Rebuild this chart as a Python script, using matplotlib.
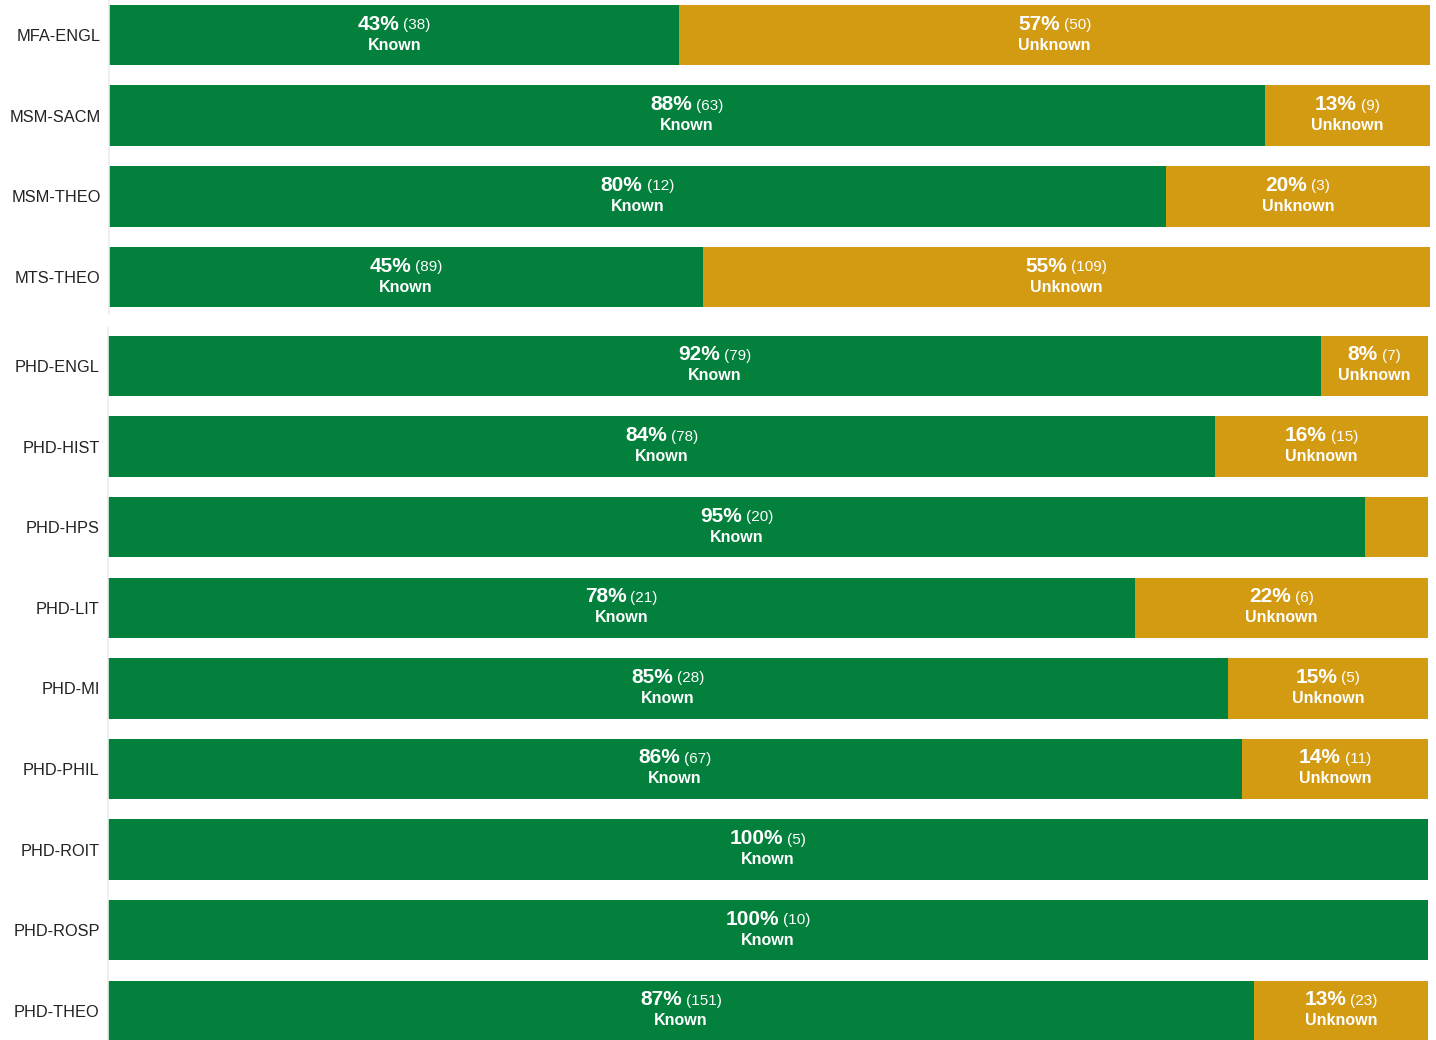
import math
import matplotlib
matplotlib.use("Agg")
import matplotlib.pyplot as plt
from matplotlib.transforms import offset_copy

plt.rcParams['font.family'] = ['Liberation Sans', 'DejaVu Sans']

top_programs = ["MFA-ENGL", "MSM-SACM", "MSM-THEO", "MTS-THEO"]
top_known = [38, 63, 12, 89]
top_unknown = [50, 9, 3, 109]

bottom_programs = ["PHD-ENGL", "PHD-HIST", "PHD-HPS", "PHD-LIT", "PHD-MI",
                   "PHD-PHIL", "PHD-ROIT", "PHD-ROSP", "PHD-THEO"]
bottom_known = [79, 78, 20, 21, 28, 67, 5, 10, 151]
bottom_unknown = [7, 15, 1, 6, 5, 11, 0, 0, 23]

GREEN = "#03803C"
GOLD = "#D39B12"
W, H = 1436, 1040
DPI = 100
fig = plt.figure(figsize=(W / DPI, H / DPI), dpi=DPI)


def px_axes(x0, y0, x1, y1):
    return fig.add_axes([x0 / W, 1 - y1 / H, (x1 - x0) / W, (y1 - y0) / H])


def rnd(v):
    return int(math.floor(v + 0.5))


labels_todo = []


def draw_panel(ax, progs, known, unknown, ylim):
    n = len(progs)
    ys = list(range(n))
    kf = [k / (k + u) for k, u in zip(known, unknown)]
    uf = [u / (k + u) for k, u in zip(known, unknown)]
    ax.barh(ys, kf, height=0.75, color=GREEN, edgecolor='none')
    ax.barh(ys, uf, left=kf, height=0.75, color=GOLD, edgecolor='none')
    ax.set_xlim(0, 1)
    ax.set_ylim(*ylim)
    ax.set_yticks(ys)
    ax.set_yticklabels(progs, fontsize=11.8, color="#222222")
    ax.tick_params(axis='y', length=0, pad=6)
    ax.set_xticks([])
    for s in ['top', 'right', 'bottom']:
        ax.spines[s].set_visible(False)
    ax.spines['left'].set_color('#ececec')
    ax.spines['left'].set_linewidth(1.2)
    for i in range(n):
        tot = known[i] + unknown[i]
        for left, frac, cnt, name in [(0, kf[i], known[i], "Known"),
                                      (kf[i], uf[i], unknown[i], "Unknown")]:
            if cnt == 0 or frac < 0.06:
                continue
            pct = rnd(100 * cnt / tot)
            labels_todo.append((ax, left + frac / 2, i, f"{pct}%", f"({cnt})", name))


ax1 = px_axes(109, 0, 1430, 314)
draw_panel(ax1, top_programs, top_known, top_unknown,
           (-0.434 + 314 / 80.67, -0.434))
ax2 = px_axes(108, 328, 1428, 1040)
draw_panel(ax2, bottom_programs, bottom_known, bottom_unknown,
           (-0.471 + 712 / 80.6, -0.471))

fig.canvas.draw()
r = fig.canvas.get_renderer()
for ax, xc, yc, p, c, name in labels_todo:
    t1 = ax.text(xc, yc, p, fontsize=15, fontweight='bold', color='white',
                 ha='left', va='center')
    t2 = ax.text(xc, yc, c, fontsize=11, color='white', ha='left', va='center')
    w1 = t1.get_window_extent(r).width
    w2 = t2.get_window_extent(r).width
    gap = 4
    tot = w1 + gap + w2
    t1.set_transform(offset_copy(ax.transData, fig=fig, x=-tot / 2, y=11, units='dots'))
    t2.set_transform(offset_copy(ax.transData, fig=fig, x=-tot / 2 + w1 + gap, y=10, units='dots'))
    ax.text(xc, yc, name, fontsize=11.5, fontweight='bold', color='white',
            ha='center', va='center',
            transform=offset_copy(ax.transData, fig=fig, x=0, y=-10, units='dots'))

fig.savefig("out.png", dpi=DPI)
